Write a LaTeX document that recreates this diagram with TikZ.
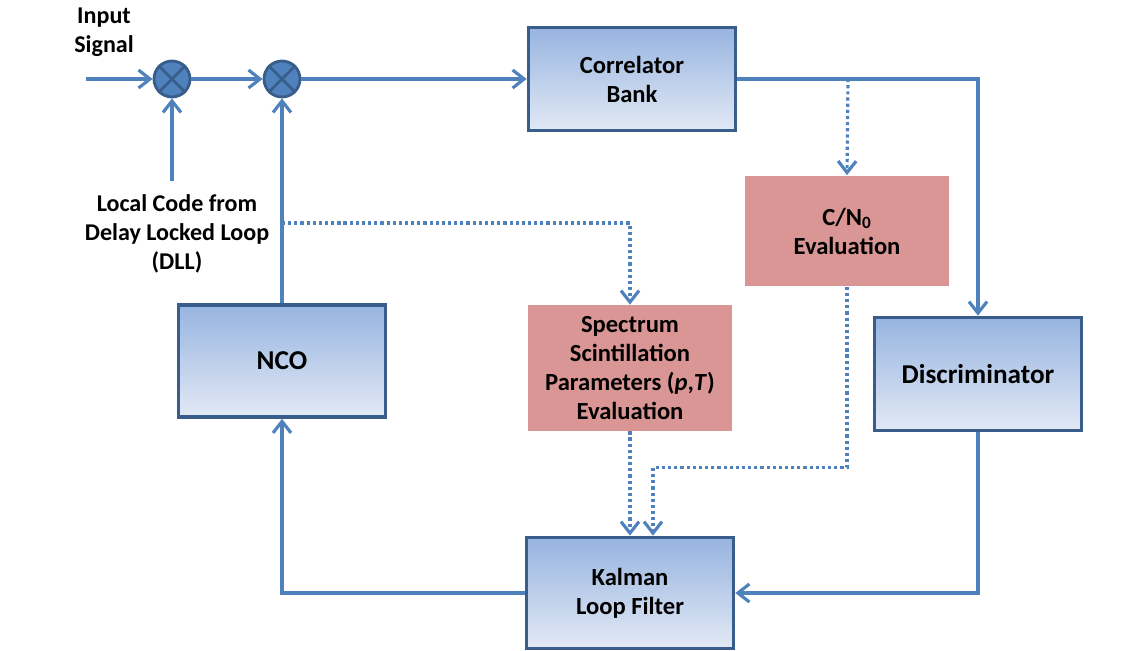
\documentclass[tikz,border=0pt]{standalone}
\usepackage{fontspec}
\setmainfont{Carlito}
\usetikzlibrary{arrows.meta}
\usetikzlibrary{calc}

\definecolor{linkblue}{HTML}{4F81BD}
\definecolor{edgeblue}{HTML}{385D8A}
\definecolor{topblue}{HTML}{97B4E0}
\definecolor{botblue}{HTML}{E2E9F5}
\definecolor{evalred}{HTML}{D99694}

\begin{document}
\begin{tikzpicture}[x=0.02cm,y=-0.02cm]
	\tikzstyle{block}=[rectangle,draw=edgeblue,line width=2.1pt,top color=topblue,bottom color=botblue,align=center,font=\fontsize{14}{16.5}\selectfont\bfseries,minimum width=4.14cm,inner sep=2pt]
	\tikzstyle{evalbox}=[rectangle,fill=evalred,align=center,font=\fontsize{14}{16.5}\selectfont\bfseries,minimum width=4.1cm,inner sep=2pt]
	\tikzstyle{mixer}=[circle,draw=edgeblue,fill=linkblue,line width=1.6pt,minimum size=0.72cm,inner sep=0pt]
	\tikzstyle{label}=[align=center,font=\fontsize{13.7}{16.5}\selectfont\bfseries]
	\tikzstyle{line}=[draw=linkblue,line width=1.8pt,-{Straight Barb[length=2.3mm,width=3.6mm]}]
	\tikzstyle{dotline}=[draw=linkblue,line width=1.8pt,dash pattern=on 1.8pt off 1.7pt,-{Straight Barb[length=2.3mm,width=3.6mm]}]

	\useasboundingbox (0,0) rectangle (1143,650);

	% blocks
	\node[block,minimum height=2.06cm] (corr) at (632,79) {Correlator\\Bank};
	\node[block,minimum height=2.24cm,font=\fontsize{15.5}{16.5}\selectfont\bfseries] (nco) at (282,361) {NCO};
	\node[block,minimum height=2.26cm,font=\fontsize{15.5}{16.5}\selectfont\bfseries] (disc) at (978,374) {Discriminator};
	\node[block,minimum height=2.22cm] (kal) at (630,593) {Kalman\\Loop Filter};
	\node[evalbox,minimum height=2.22cm] (cn) at (847,231) {C/N\textsubscript{0}\\Evaluation};
	\node[evalbox,minimum height=2.52cm] (spec) at (630,368) {Spectrum\\Scintillation\\Parameters (\textit{p},\textit{T})\\Evaluation};

	% mixers
	\node[mixer] (m1) at (172,79) {};
	\node[mixer] (m2) at (282,79) {};
	\foreach \m in {m1,m2} {
		\draw[edgeblue,line width=1.6pt] (\m.north west) -- (\m.south east);
		\draw[edgeblue,line width=1.6pt] (\m.north east) -- (\m.south west);
	}

	% texts
	\node[label] (insig) at (104,32) {Input\\Signal};
	\node[label] (lcode) at (177,234) {Local Code from\\Delay Locked Loop\\(DLL)};

	\coordinate (in) at (86,79);
	\coordinate (lcin) at (172,181);
	\coordinate (tapc) at (848,79);
	\coordinate (tapn) at (282,223);

	% solid connectors
	\draw[line] (in) -- (m1.west);
	\draw[line] (m1.east) -- (m2.west);
	\draw[line] (m2.east) -- (corr.west);
	\draw[line] (lcin) -- (m1.south);
	\draw[line] (nco.north) -- (m2.south);
	\draw[line] (corr.east) -| (disc.north);
	\draw[line] (disc.south) |- (kal.east);
	\draw[line] (kal.west) -| (nco.south);

	% dotted connectors
	\draw[dotline] (tapc) -- (cn.north);
	\draw[dotline] (tapn) -| (spec.north);
	\draw[dotline] (spec.south) -- (kal.north);
	\draw[dotline] (cn.south) -- ++(0,181) -| ($(kal.north)+(23,0)$);
\end{tikzpicture}
\end{document}
